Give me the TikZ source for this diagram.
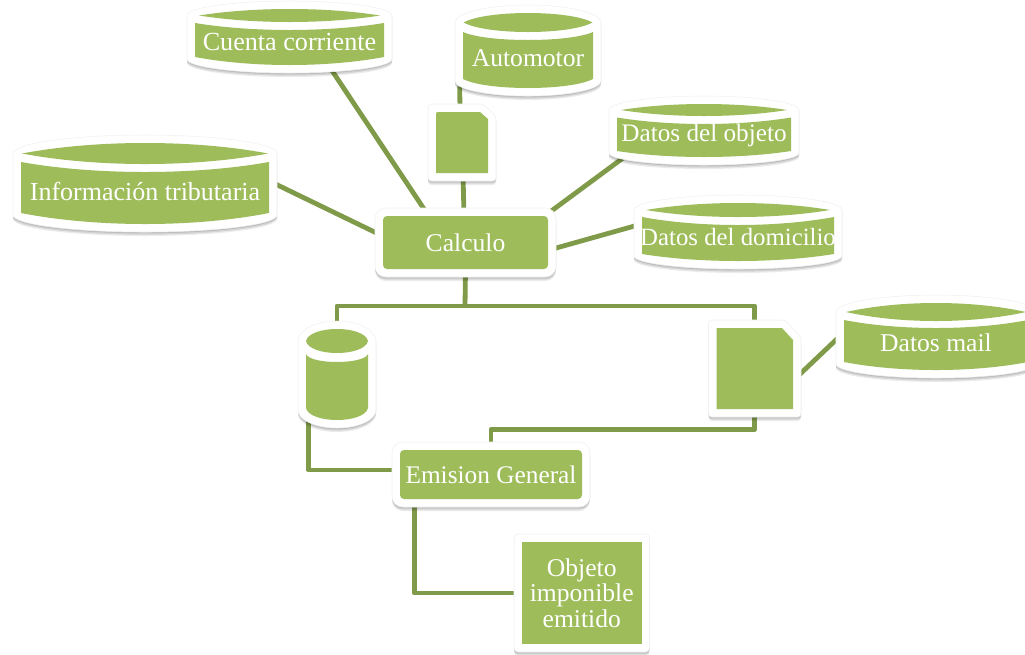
\documentclass[tikz,border=0pt]{standalone}
\usepackage{fontspec}
\setmainfont{Liberation Serif}
\usetikzlibrary{calc}
\definecolor{shapegreen}{HTML}{9EBD5A}
\definecolor{linegreen}{HTML}{7F9A48}
\pgfdeclarelayer{background}
\pgfsetlayers{background,main}
\tikzset{
  conn/.style={draw=linegreen,line width=3.6pt,line join=round},
  label text/.style={text=white,inner sep=0pt,align=center,font=\fontsize{19.2}{19}\selectfont},
  white body/.style={fill=white,draw=black!6,line width=.4pt},
  green body/.style={fill=shapegreen},
}
\newcommand\fs[1]{\fontsize{#1}{19}\selectfont}
\newcommand\softshadow{%
  \fill[black,opacity=.10,yshift=-1pt] \opath;
  \fill[black,opacity=.10,yshift=-2pt] \opath;
  \fill[black,opacity=.08,yshift=-3pt] \opath;
  \path[white body] \opath;
}
\def\lens{.3}
% name xl xr inset et eb s c sb | b text
\newcommand\cyl[9]{%
  \def\cN{#1}\def\cXl{#2}\def\cXr{#3}\def\cIn{#4}\def\cEt{#5}\def\cEb{#6}\def\cS{#7}\def\cC{#8}\def\cSb{#9}\cylnext}
\newcommand\cylnext[2]{%
  \pgfmathsetmacro\cL{\cXl-8}\pgfmathsetmacro\cR{\cXr+8}\pgfmathsetmacro\cT{\cEt-8}\pgfmathsetmacro\cB{#1+8}%
  \pgfmathsetmacro\cX{(\cXl+\cXr)/2}\pgfmathsetmacro\cY{(\cEt+\cEb)/2}%
  \pgfmathsetmacro\cW{(\cR-\cL)/2}\pgfmathsetmacro\cH{\cY-\cT}\pgfmathsetmacro\cHb{\cB-\cSb-2}%
  \pgfmathsetmacro\sx{.55*\cW}\pgfmathsetmacro\shy{.55*\cH}\pgfmathsetmacro\shb{.55*\cHb}%
  \pgfmathsetmacro\ea{\cXl+\cIn}\pgfmathsetmacro\eb{\cXr-\cIn}\pgfmathsetmacro\ew{\eb-\ea}%
  \pgfmathsetmacro\eh{(\cEb-\cEt)*.667}%
  \pgfmathsetmacro\bw{\cXr-\cXl}%
  \edef\opath{(\cL,\cY) .. controls (\cL,{\cY-\shy}) and ({\cX-\sx},\cT) .. (\cX,\cT) .. controls ({\cX+\sx},\cT) and (\cR,{\cY-\shy}) .. (\cR,\cY) -- (\cR,{\cSb+2}) .. controls (\cR,{\cSb+2+\shb}) and ({\cX+\sx},\cB) .. (\cX,\cB) .. controls ({\cX-\sx},\cB) and (\cL,{\cSb+2+\shb}) .. (\cL,{\cSb+2}) -- cycle}%
  \softshadow
  \fill[green body] (\ea,\cY) .. controls ({\ea+\lens*\ew},{\cY-\eh*1}) and ({\eb-\lens*\ew},{\cY-\eh*1}) .. (\eb,\cY) .. controls ({\eb-\lens*\ew},{\cY+\eh*1}) and ({\ea+\lens*\ew},{\cY+\eh*1}) .. (\ea,\cY) -- cycle;
  \fill[green body] (\cXl,\cS) .. controls ({\cXl+\lens*\bw},{\cS+(\cC-\cS)/.75}) and ({\cXr-\lens*\bw},{\cS+(\cC-\cS)/.75}) .. (\cXr,\cS) -- (\cXr,\cSb) .. controls ({\cXr-\lens*\bw},{\cSb+(#1-\cSb)/.75}) and ({\cXl+\lens*\bw},{\cSb+(#1-\cSb)/.75}) .. (\cXl,\cSb) -- cycle;
  \node[label text,minimum width={(\cXr-\cXl)*.75pt},minimum height={(#1-\cS)*.75pt}] (\cN) at (\cX,{(\cS+#1)/2-2}) {#2};
}
% name xl yt xr yb rout rin text
\newcommand\boxn[8]{%
  \pgfmathsetmacro\cL{#2-8}\pgfmathsetmacro\cT{#3-8}\pgfmathsetmacro\cR{#4+8}\pgfmathsetmacro\cB{#5+8}%
  \edef\opath{[rounded corners=#6pt] (\cL,\cT) rectangle (\cR,\cB)}%
  \softshadow
  \node[label text,green body,rounded corners=#7pt,minimum width={(#4-#2)*.75pt},minimum height={(#5-#3)*.75pt}] (#1) at ({(#2+#4)/2},{(#3+#5)/2}) {#8};
}
% name xl yt xr yb cutx cuty corner
\newcommand\docu[8]{%
  \pgfmathsetmacro\cL{#2-8}\pgfmathsetmacro\cT{#3-8}\pgfmathsetmacro\cR{#4+8}\pgfmathsetmacro\cB{#5+8}%
  \pgfmathsetmacro\oCx{#6+3}\pgfmathsetmacro\oCy{#7-3}%
  \edef\opath{[rounded corners=2.5pt] (\cL,\cT) -- (\oCx,\cT) -- (\cR,\oCy) -- (\cR,\cB) -- (\cL,\cB) -- cycle}%
  \softshadow
  \fill[green body] (#2,{#3+#8}) .. controls (#2,#3) .. ({#2+#8},#3) -- (#6,#3) -- (#4,#7) -- (#4,#5) -- (#2,#5) -- cycle;
  \node[inner sep=0pt,minimum width={(#4-#2)*.75pt},minimum height={(#5-#3)*.75pt}] (#1) at ({(#2+#4)/2},{(#3+#5)/2}) {};
}
\begin{document}
\begin{tikzpicture}[x=.75pt,y=-.75pt]
\useasboundingbox (0,0) rectangle (1025,654);
\clip (0,0) rectangle (1025,654);
\cyl{cuenta}{195}{384}{4}{9}{22}{23}{30}{57}{65}{\fs{19.6}Cuenta corriente}
\cyl{info}{21}{269}{1}{143}{164}{162}{172}{213}{224}{\fs{19.5}Información tributaria}
\def\lens{.18}
\cyl{auto}{463}{593}{0.5}{13}{32}{32}{40}{79}{88}{Automotor}
\def\lens{.3}
\cyl{datosobj}{617}{791}{4}{104}{116}{117.5}{124}{151}{157}{\fs{18.9}Datos del objeto}
\cyl{dom}{642}{834}{4}{203}{217}{217}{225}{254}{261}{\fs{18.6}Datos del domicilio}
\cyl{mail}{844}{1028}{2}{303}{321}{320}{328}{362}{370}{Datos mail}
\def\lens{.06}
\cyl{cylL}{306}{368}{0}{329}{353}{354}{362}{408}{420}{}
\docu{docS}{436}{112}{488}{173}{480}{119}{3}
\docu{docL}{716.6}{328}{793}{409}{782}{340}{0}
\boxn{calc}{383}{216}{548}{269}{8}{3}{Calculo}
\boxn{emis}{400}{450}{582}{499}{8}{3}{\fs{19}Emision General}
\boxn{obj}{522}{542}{641.5}{644}{3}{0}{Objeto\\imponible\\emitido}
\coordinate (bus) at (465,306);
\begin{pgfonlayer}{background}
  \draw[conn] ($(info.east)+(0,-10)$) -- ($(calc.west)+(0,-6.5)$);
  \draw[conn] ($(cuenta.south)+(37.6,0)$) -- ($(calc.north)+(-37,0)$);
  \draw[conn] ($(auto.south west)+(-3,0)$) -- ($(docS.north)+(-2,0)$);
  \draw[conn] ($(docS.south)+(1,0)$) -- ($(calc.north)+(-1.5,0)$);
  \draw[conn] ($(datosobj.south)+(-77.3,0)$) -- ($(calc.north east)+(0,-2.5)$);
  \draw[conn] ($(dom.west)+(0,-12.5)$) -- ($(calc.east)+(0,7.7)$);
  \draw[conn] (calc.south) -- (bus);
  \draw[conn] (cylL.north) |- (bus) -| (docL.north);
  \draw[conn] (docL.south) -- ($(docL.south)+(0,20)$) -| (emis.north);
  \draw[conn] ($(cylL.south west)+(2.5,0)$) |- ($(emis.west)+(0,-4.5)$);
  \draw[conn] ($(emis.south west)+(14.5,0)$) |- (obj.west);
  \draw[conn] ($(docL.east)+(0,12)$) -- ($(mail.west)+(0,-10.5)$);
\end{pgfonlayer}
\end{tikzpicture}
\end{document}
